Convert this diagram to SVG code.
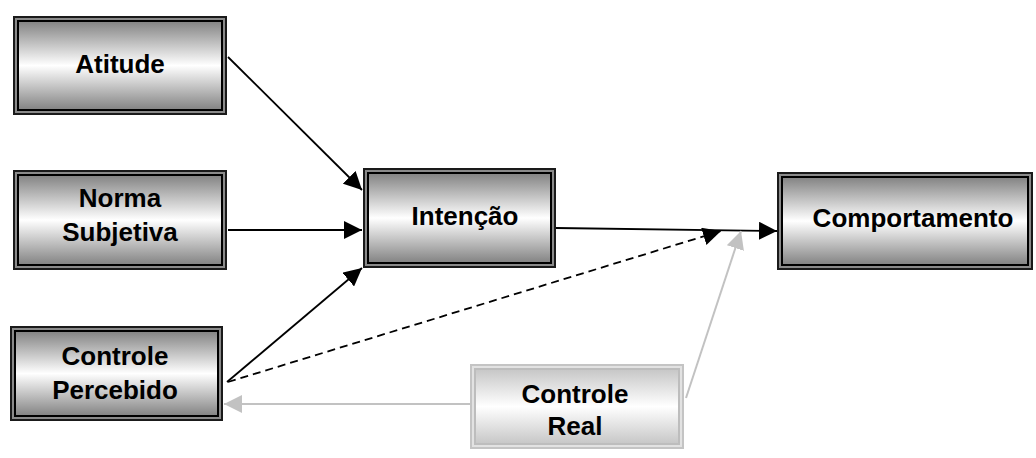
<svg xmlns="http://www.w3.org/2000/svg" width="1036" height="458" viewBox="0 0 1036 458">
  <style>
    .label { font-family: "Liberation Sans", Arial, sans-serif; font-weight: bold; font-size: 26px; fill: #000; text-anchor: middle; }
    .b-out { fill: #1a1a1a; }
    .b-mid { fill: #8a8a8a; }
    .b-in { fill: #000; }
    .b-fill { fill: url(#shade); }
    .g-out { fill: #c4c4c4; }
    .g-mid { fill: #e2e2e2; }
    .g-in { fill: #bdbdbd; }
    .g-fill { fill: url(#shadeLight); }
    .link { stroke: #000; stroke-width: 1.8; fill: none; }
    .dashed { stroke-dasharray: 8 5; }
    .soft { stroke: #c2c2c2; stroke-width: 2; fill: none; }
  </style>
  <defs>
    <linearGradient id="shade" x1="0" y1="0" x2="0" y2="1">
      <stop offset="0" stop-color="#858585"/>
      <stop offset="0.5" stop-color="#ffffff"/>
      <stop offset="1" stop-color="#858585"/>
    </linearGradient>
    <linearGradient id="shadeLight" x1="0" y1="0" x2="0" y2="1">
      <stop offset="0" stop-color="#c8c8c8"/>
      <stop offset="0.5" stop-color="#ffffff"/>
      <stop offset="1" stop-color="#c8c8c8"/>
    </linearGradient>
    <marker id="arrow" viewBox="0 0 18 18" refX="18" refY="9" markerWidth="18" markerHeight="18" markerUnits="userSpaceOnUse" orient="auto">
      <path d="M0,0 L18,9 L0,18 Z" fill="#000"/>
    </marker>
    <marker id="arrowSoft" viewBox="0 0 18 18" refX="18" refY="9" markerWidth="18" markerHeight="18" markerUnits="userSpaceOnUse" orient="auto">
      <path d="M0,0 L18,9 L0,18 Z" fill="#c2c2c2"/>
    </marker>
  </defs>

  <g id="connectors">
    <line class="link" x1="228" y1="57" x2="362" y2="190" marker-end="url(#arrow)"/>
    <line class="link" x1="228" y1="230" x2="362" y2="230" marker-end="url(#arrow)"/>
    <line class="link" x1="227" y1="382" x2="362" y2="268" marker-end="url(#arrow)"/>
    <line class="link dashed" x1="228" y1="382" x2="721" y2="231" marker-end="url(#arrow)"/>
    <line class="link" x1="556" y1="228" x2="777" y2="231" marker-end="url(#arrow)"/>
    <line class="soft" x1="470" y1="404" x2="224" y2="404" marker-end="url(#arrowSoft)"/>
    <line class="soft" x1="686" y1="398" x2="741" y2="231" marker-end="url(#arrowSoft)"/>
  </g>

  <g id="atitude">
    <rect class="b-out" x="13" y="16" width="214" height="99"/>
    <rect class="b-mid" x="15" y="18" width="210" height="95"/>
    <rect class="b-in" x="17" y="20" width="206" height="91"/>
    <rect class="b-fill" x="19" y="22" width="202" height="87"/>
    <text class="label" x="120" y="73">Atitude</text>
  </g>

  <g id="norma-subjetiva">
    <rect class="b-out" x="13" y="170" width="214" height="100"/>
    <rect class="b-mid" x="15" y="172" width="210" height="96"/>
    <rect class="b-in" x="17" y="174" width="206" height="92"/>
    <rect class="b-fill" x="19" y="176" width="202" height="88"/>
    <text class="label" x="120" y="207">Norma</text>
    <text class="label" x="120" y="241">Subjetiva</text>
  </g>

  <g id="intencao">
    <rect class="b-out" x="363" y="168" width="193" height="100"/>
    <rect class="b-mid" x="365" y="170" width="189" height="96"/>
    <rect class="b-in" x="367" y="172" width="185" height="92"/>
    <rect class="b-fill" x="369" y="174" width="181" height="88"/>
    <text class="label" x="465" y="225">Intenção</text>
  </g>

  <g id="comportamento">
    <rect class="b-out" x="777" y="172" width="256" height="98"/>
    <rect class="b-mid" x="779" y="174" width="252" height="94"/>
    <rect class="b-in" x="781" y="176" width="248" height="90"/>
    <rect class="b-fill" x="783" y="178" width="244" height="86"/>
    <text class="label" x="913" y="227">Comportamento</text>
  </g>

  <g id="controle-percebido">
    <rect class="b-out" x="10" y="326" width="213" height="95"/>
    <rect class="b-mid" x="12" y="328" width="209" height="91"/>
    <rect class="b-in" x="14" y="330" width="205" height="87"/>
    <rect class="b-fill" x="16" y="332" width="201" height="83"/>
    <text class="label" x="115" y="365">Controle</text>
    <text class="label" x="115" y="399">Percebido</text>
  </g>

  <g id="controle-real">
    <rect class="g-out" x="470" y="364" width="214" height="85"/>
    <rect class="g-mid" x="472" y="366" width="210" height="81"/>
    <rect class="g-in" x="474" y="368" width="206" height="77"/>
    <rect class="g-fill" x="476" y="370" width="202" height="73"/>
    <text class="label" x="575" y="403">Controle</text>
    <text class="label" x="575" y="435">Real</text>
  </g>
</svg>
